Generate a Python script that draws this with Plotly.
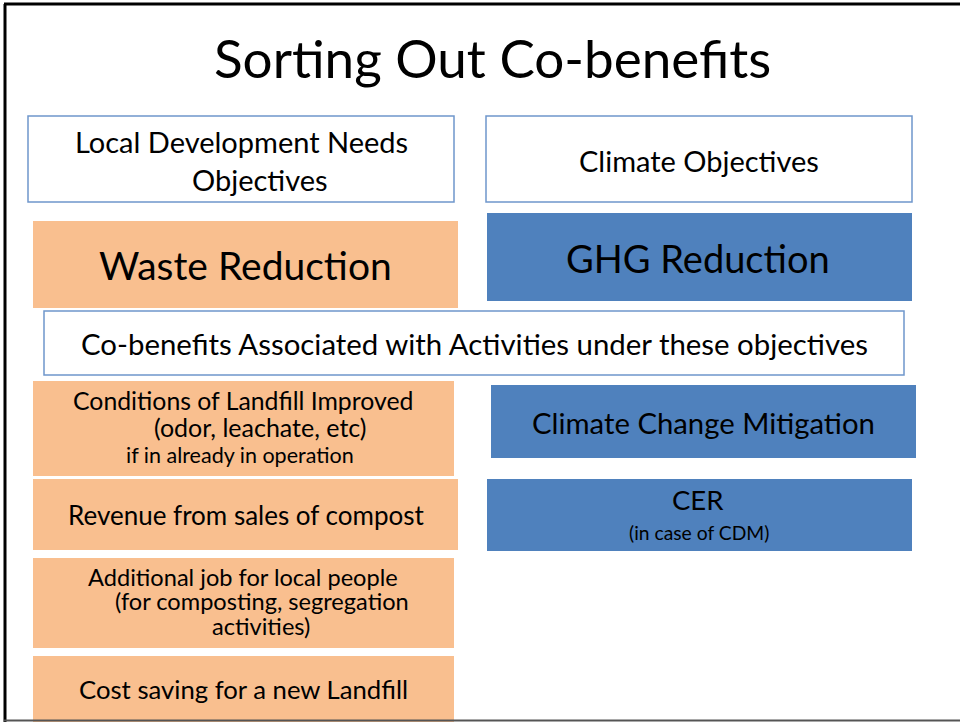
import plotly.graph_objects as go

# ---- content (text) ----
title_text = "Sorting Out Co-benefits"
header_labels = ["Local Development Needs<br>Objectives", "Climate Objectives"]
objective_labels = ["Waste Reduction", "GHG Reduction"]
cobenefit_header = "Co-benefits Associated with Activities under these objectives"
local_benefits = [
    ["Conditions of Landfill Improved", "(odor, leachate, etc)", "if in already in operation"],
    ["Revenue from sales of compost"],
    ["Additional job for local people", "(for composting, segregation", "activities)"],
    ["Cost saving for a new Landfill"],
]
climate_benefits = [
    ["Climate Change Mitigation"],
    ["CER", "(in case of CDM)"],
]

# ---- layout / style (positions in px of the 960x722 slide) ----
ORANGE = "#F9BF8F"
BLUE = "#4F81BD"
OUTLINE = "#6F97CC"
FONT = "Lato"

fig = go.Figure()
shapes = []
ann = []

def box(x0, y0, x1, y1, fill, line=None, lw=0):
    shapes.append(dict(type="rect", xref="x", yref="y", x0=x0, y0=y0, x1=x1, y1=y1,
                       fillcolor=fill, line=dict(color=line or fill, width=lw), layer="below"))

def text(x, y, s, size):
    ann.append(dict(x=x, y=y, xref="x", yref="y", text=s, showarrow=False,
                    font=dict(family=FONT, size=size, color="black"),
                    xanchor="center", yanchor="middle"))

# slide frame
shapes.append(dict(type="line", xref="x", yref="y", x0=4, y0=4, x1=960, y1=4, line=dict(color="black", width=3)))
shapes.append(dict(type="line", xref="x", yref="y", x0=5, y0=4, x1=5, y1=722, line=dict(color="black", width=3)))
shapes.append(dict(type="line", xref="x", yref="y", x0=4, y0=720.5, x1=960, y1=720.5, line=dict(color="#555555", width=2)))

text(492, 57, title_text, 53)

# headers
box(28, 116, 454, 202, "white", OUTLINE, 1.5)
box(486, 116, 912, 202, "white", OUTLINE, 1.5)
h0 = header_labels[0].split("<br>")
text(241, 141, h0[0], 29)
text(260, 179, h0[1], 29)
text(699, 160, header_labels[1], 29)

# objectives
box(33, 221, 458, 308, ORANGE)
box(487, 213, 912, 301, BLUE)
text(245, 265, objective_labels[0], 39)
text(698, 258, objective_labels[1], 38)

# co-benefit header
box(44, 311, 904, 375, "white", OUTLINE, 1.5)
text(474, 343, cobenefit_header, 29.4)

# local benefits
lb_boxes = [(33, 381, 454, 476), (33, 479, 458, 550), (33, 558, 454, 648), (33, 656, 454, 722)]
lb_lines = [
    [(243, 400, 24.8), (260, 427, 25), (240, 455, 21.5)],
    [(246, 515, 26)],
    [(243, 577, 23.6), (262, 601, 23.6), (261, 626, 23.6)],
    [(243, 689, 25.7)],
]
for b, lines, pos in zip(lb_boxes, local_benefits, lb_lines):
    box(*b, ORANGE)
    for s, (x, y, sz) in zip(lines, pos):
        text(x, y, s, sz)

cb_boxes = [(491, 385, 916, 458), (487, 479, 912, 551)]
cb_lines = [[(703, 422, 29.3)], [(698, 499, 27.5), (699, 532, 19.3)]]
for b, lines, pos in zip(cb_boxes, climate_benefits, cb_lines):
    box(*b, BLUE)
    for s, (x, y, sz) in zip(lines, pos):
        text(x, y, s, sz)

fig.update_layout(
    width=960, height=722, margin=dict(l=0, r=0, t=0, b=0),
    paper_bgcolor="white", plot_bgcolor="white",
    xaxis=dict(range=[0, 960], visible=False, fixedrange=True),
    yaxis=dict(range=[722, 0], visible=False, fixedrange=True),
    shapes=shapes, annotations=ann, showlegend=False,
)
fig.write_html("out.html", config={"displayModeBar": False},
               post_script="document.body.style.margin='0';document.body.style.overflow='hidden';")
